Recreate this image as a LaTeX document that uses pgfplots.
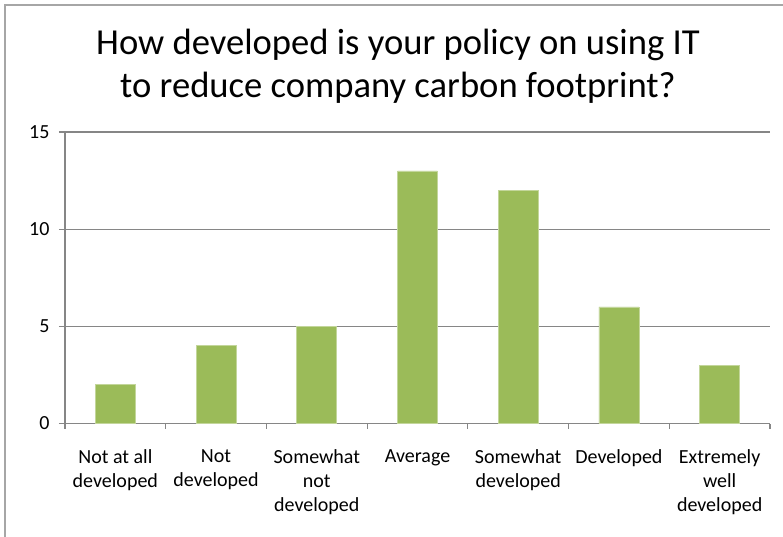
\documentclass[border=0pt]{standalone}
\usepackage{pgfplots}
\pgfplotsset{compat=1.18}
\usepackage{fontspec}
\setmainfont{Carlito}
\definecolor{barg}{HTML}{9BBB59}
\definecolor{axg}{HTML}{868686}
\definecolor{frameg}{HTML}{A6A6A6}
\begin{document}
\begin{tikzpicture}[x=1pt,y=1pt]
\useasboundingbox (0,0) rectangle (783,536);
\begin{scope}
\clip (0,0) rectangle (783,536);
\draw[frameg, line width=1.5pt] (5,-20) -- (5,531) -- (820,531);
\end{scope}
\node[anchor=base, font=\fontsize{36.6}{43}\selectfont] at (398,481) {How developed is your policy on using IT};
\node[anchor=base, font=\fontsize{36.6}{43}\selectfont] at (398,438) {to reduce company carbon footprint?};
\begin{axis}[
  at={(65pt,112.5pt)}, anchor=south west,
  width=705pt, height=291.5pt, scale only axis,
  xmin=-0.5, xmax=6.5, ymin=0, ymax=15,
  axis x line*=bottom, axis y line*=left,
  axis line style={axg, line width=1.2pt},
  ymajorgrids, grid style={axg, line width=1.2pt},
  ytick={0,5,10,15},
  xtick={0,...,6},
  xticklabels={{Not at all\\developed},{Not\\developed},{Somewhat\\not\\developed},{Average},{Somewhat\\developed},{Developed},{Extremely\\well\\developed}},
  tick align=outside,
  x tick style={draw=none},
  y tick style={axg, line width=1.2pt},
  major tick length=6pt,
  extra x ticks={-0.5,0.5,...,6.5},
  extra x tick labels={},
  extra x tick style={grid=none, major tick length=5pt, x tick style={draw=axg, line width=1.2pt}},
  xticklabel style={align=center, anchor=north, font=\fontsize{20}{24}\selectfont, yshift=-17pt},
  yticklabel style={font=\fontsize{20}{24}\selectfont, xshift=-6pt},
  /pgf/number format/assume math mode=true,
  clip=false,
]
\addplot[ybar, bar width=0.397, fill=barg, draw=barg!60!white, line width=0.6pt] coordinates {(0,2) (1,4) (2,5) (3,13) (4,12) (5,6) (6,3)};
\end{axis}
\end{tikzpicture}
\end{document}
